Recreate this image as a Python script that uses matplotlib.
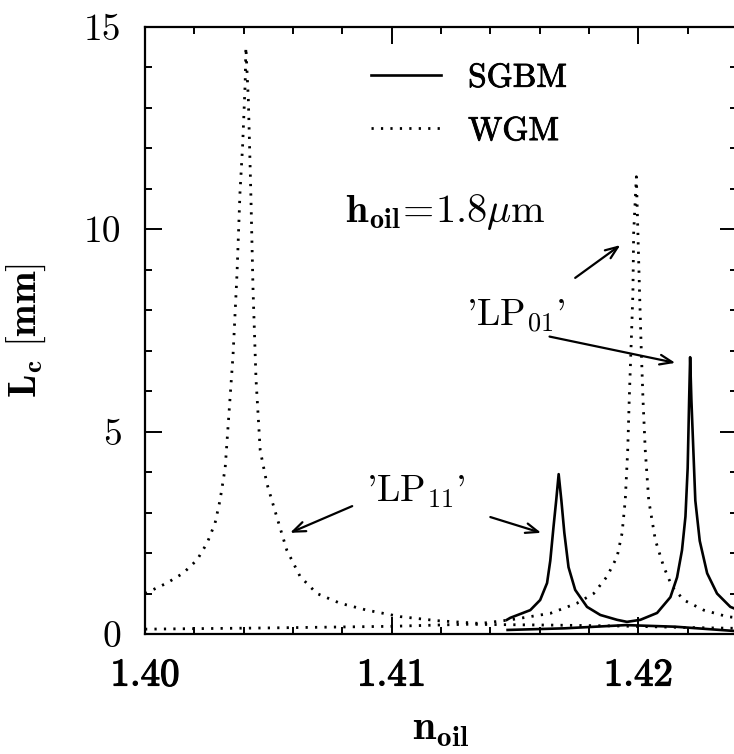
import matplotlib
matplotlib.use("Agg")
import matplotlib.pyplot as plt
import matplotlib.patheffects as pe
from matplotlib.ticker import MultipleLocator, FixedLocator, FixedFormatter

plt.rcParams["mathtext.fontset"] = "cm"
plt.rcParams["axes.unicode_minus"] = False

# WGM coupling length (dotted), both resonances
wgm_n = [1.40000, 1.40089, 1.40154, 1.40211, 1.40252, 1.40284, 1.40304, 1.40325,
         1.40357, 1.40373, 1.40385, 1.40396, 1.40406, 1.40409, 1.40419, 1.40429,
         1.40438, 1.40450, 1.40467, 1.40494, 1.40534, 1.40575, 1.40629, 1.40697,
         1.40791, 1.40899, 1.41034, 1.41183, 1.41359, 1.41481, 1.41643, 1.41751,
         1.41819, 1.41873, 1.41914, 1.41934, 1.41947, 1.41957, 1.41963, 1.41970,
         1.41978, 1.41981, 1.41992, 1.42005, 1.42012, 1.42019, 1.42028, 1.42042,
         1.42069, 1.42103, 1.42137, 1.42184, 1.42265, 1.42360, 1.42402]
wgm_lc = [1.00, 1.26, 1.50, 1.83, 2.25, 2.74, 3.30, 4.10,
          6.90, 8.90, 10.90, 12.10, 13.60, 14.50, 13.20, 10.90,
          8.50, 6.30, 4.54, 3.72, 2.90, 2.07, 1.42, 1.00,
          0.76, 0.59, 0.43, 0.33, 0.26, 0.35, 0.51, 0.76,
          1.00, 1.42, 1.91, 2.49, 3.31, 4.55, 5.78, 7.00,
          8.42, 9.90, 11.30, 8.42, 7.00, 5.78, 4.55, 3.31,
          2.32, 1.66, 1.17, 0.84, 0.59, 0.43, 0.40]

# second, weakly coupled WGM branch
wgm2_n = [1.400, 1.405, 1.410, 1.413, 1.4165, 1.419, 1.422, 1.424]
wgm2_lc = [0.12, 0.15, 0.19, 0.24, 0.22, 0.20, 0.16, 0.14]

# SGBM coupling length (solid), both resonances
sgbm_n = [1.41467, 1.41481, 1.41562, 1.41602, 1.41630, 1.41643, 1.41656, 1.41667,
          1.41677, 1.41688, 1.41700, 1.41717, 1.41744, 1.41792, 1.41846, 1.41914,
          1.41954, 1.42008, 1.42076, 1.42130, 1.42157, 1.42177, 1.42191, 1.42200,
          1.42206, 1.42210, 1.42215, 1.42231, 1.42249, 1.42279, 1.42319, 1.42373,
          1.42402]
sgbm_lc = [0.35, 0.40, 0.59, 0.84, 1.26, 1.81, 2.64, 3.30,
           3.95, 3.30, 2.50, 1.65, 1.09, 0.67, 0.47, 0.35,
           0.30, 0.35, 0.52, 0.91, 1.40, 2.07, 2.90, 4.10,
           5.80, 6.84, 5.80, 3.30, 2.30, 1.50, 1.00, 0.67,
           0.60]

# second, weakly coupled SGBM branch
sgbm2_n = [1.4147, 1.4170, 1.4195, 1.4215, 1.4240]
sgbm2_lc = [0.10, 0.14, 0.22, 0.18, 0.07]

x_major = [1.40, 1.41, 1.42]
x_labels = ["1.40", "1.41", "1.42"]
y_major = [0, 5, 10, 15]
y_labels = ["0", "5", "10", "15"]

W, H = 734, 754
fig = plt.figure(figsize=(W / 100, H / 100), dpi=100)
ax = fig.add_axes([145 / W, 1 - 634 / H, (737 - 145) / W, (634 - 27) / H])

dot = (0, (0.8, 2.6))
ax.plot(sgbm_n, sgbm_lc, color="black", lw=1.9, label="SGBM")
ax.plot(wgm_n, wgm_lc, color="black", lw=2.0, ls=dot, label="WGM")
ax.plot(sgbm2_n, sgbm2_lc, color="black", lw=1.9)
ax.plot(wgm2_n, wgm2_lc, color="black", lw=2.0, ls=dot)

ax.set_xlim(1.40, 1.424)
ax.set_ylim(0, 15)

ax.xaxis.set_major_locator(FixedLocator(x_major))
ax.xaxis.set_major_formatter(FixedFormatter(x_labels))
ax.xaxis.set_minor_locator(MultipleLocator(0.002))
ax.yaxis.set_major_locator(FixedLocator(y_major))
ax.yaxis.set_major_formatter(FixedFormatter(y_labels))
ax.yaxis.set_minor_locator(MultipleLocator(1))

ax.tick_params(which="both", direction="in", top=True, right=True, width=1.4,
               color="black")
ax.tick_params(which="major", length=12)
ax.tick_params(which="minor", length=5)
ax.tick_params(axis="x", which="major", pad=17)
ax.tick_params(axis="y", which="major", pad=17)
heavy = [pe.withStroke(linewidth=0.9, foreground="black")]
for lab in ax.get_xticklabels():
    lab.set_fontfamily("cmr10")
    lab.set_fontsize(28)
    lab.set_path_effects(heavy)
for lab in ax.get_yticklabels():
    lab.set_fontfamily("cmr10")
    lab.set_fontsize(27)
for s in ax.spines.values():
    s.set_linewidth(1.6)

ax.set_xlabel(r"$\mathbf{n}_{\mathbf{oil}}$", fontsize=30, labelpad=10)
ax.set_ylabel(r"$\mathbf{L}_{\mathbf{c}}\ \mathbf{[mm]}$", fontsize=28, labelpad=26)

leg = ax.legend(loc="upper left", bbox_to_anchor=(0.36, 0.962), frameon=False,
                prop={"family": "cmr10", "size": 24}, handlelength=2.1,
                handletextpad=0.8, labelspacing=0.72, borderaxespad=0)
for t in leg.get_texts():
    t.set_path_effects([pe.withStroke(linewidth=0.6, foreground="black")])

ax.text(1.40811, 10.18, r"$\mathbf{h}_{\mathbf{oil}}\!=\!1.8\mu\mathrm{m}$",
        fontsize=29, ha="left", va="baseline")
ax.text(1.40895, 3.26, r"'LP$_{\mathrm{11}}$'", family="cmr10",
        fontsize=27, ha="left", va="baseline")
ax.text(1.41300, 7.60, r"'LP$_{\mathrm{01}}$'", family="cmr10",
        fontsize=27, ha="left", va="baseline")

arrow = dict(arrowstyle="->,head_length=0.9,head_width=0.35", lw=1.6,
             color="black", shrinkA=0, shrinkB=0)
ax.annotate("", xy=(1.40588, 2.50), xytext=(1.40840, 3.16), arrowprops=arrow)
ax.annotate("", xy=(1.41606, 2.50), xytext=(1.41400, 2.89), arrowprops=arrow)
ax.annotate("", xy=(1.41927, 9.61), xytext=(1.41744, 8.80), arrowprops=arrow)
ax.annotate("", xy=(1.42150, 6.70), xytext=(1.41640, 7.35), arrowprops=arrow)

fig.savefig("out.png", dpi=100)
